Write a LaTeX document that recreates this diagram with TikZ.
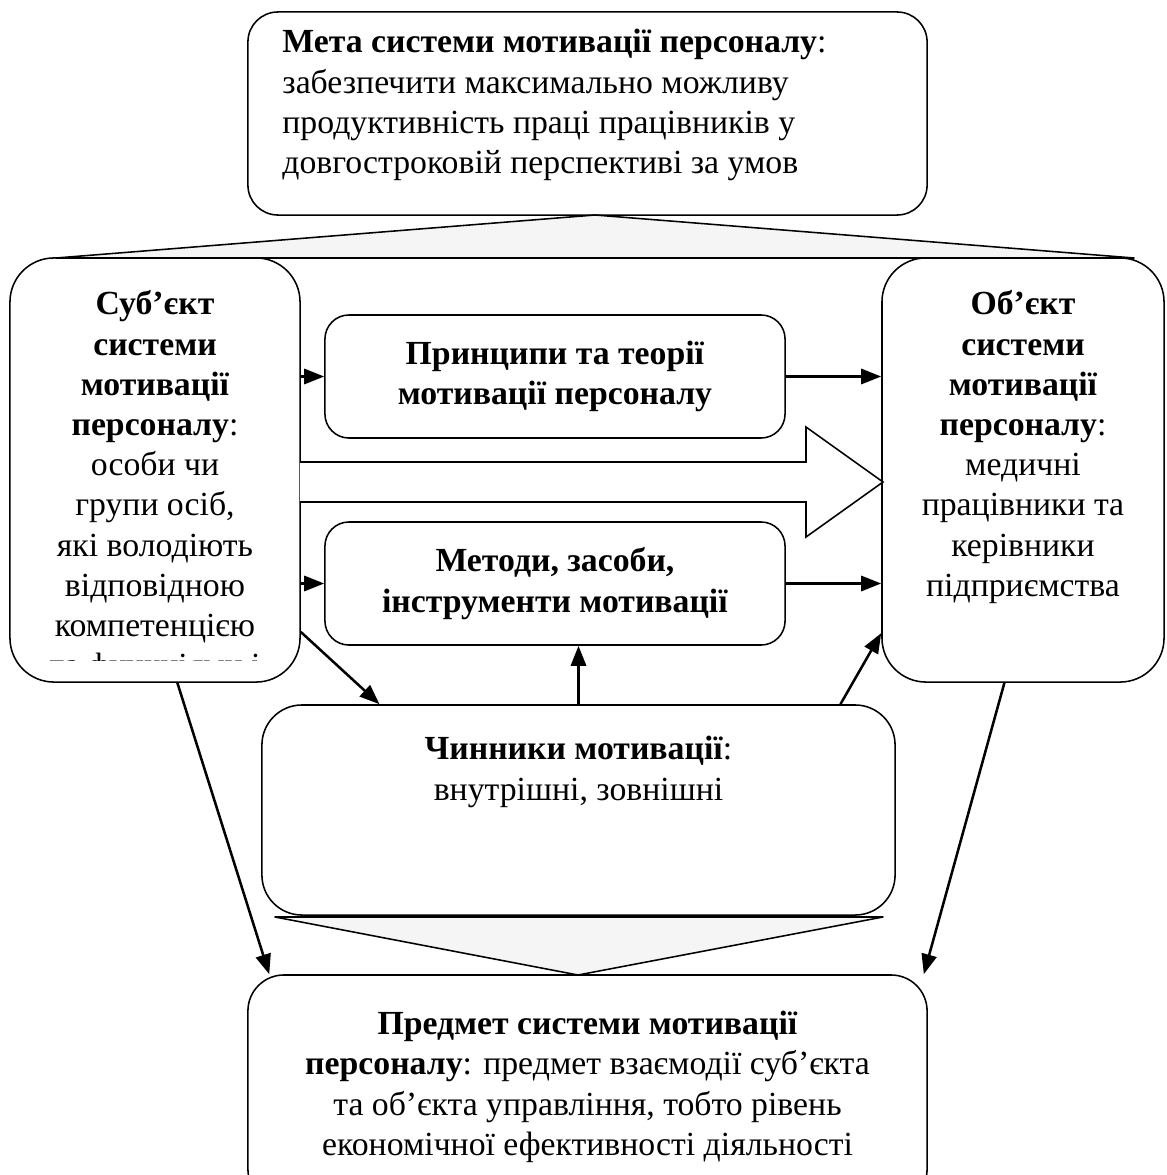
\documentclass[tikz,border=0pt]{standalone}
\usepackage{fontspec}
\setmainfont{Liberation Serif}
\usetikzlibrary{arrows.meta,calc}
\tikzstyle{box} = [rectangle, draw=black, line width=1.1pt, fill=white]
\tikzstyle{txt} = [inner sep=0pt, align=center, font=\fontsize{24}{28.6}\selectfont]
\tikzstyle{arrow} = [line width=1.8pt, -{Triangle[length=0.5cm,width=0.38cm]}]
\tikzstyle{tri} = [line width=1.1pt, fill=black!4, line join=round]

\begin{document}
\begin{tikzpicture}[x=0.025cm, y=-0.025cm]
  \useasboundingbox (0,0) rectangle (1166,1175);
  \node (goal)[box, rounded corners=0.75cm, minimum width=16.975cm, minimum height=5.075cm] at (587.5,113.5) {};
  \node (goaltext)[txt, align=left, anchor=north west] at ([xshift=0.875cm, yshift=-0.45cm]goal.north west) {\textbf{Мета системи мотивації персоналу}:\\забезпечити максимально можливу\\продуктивність праці працівників у\\довгостроковій перспективі за умов};

  \node (subj)[box, rounded corners=1.1cm, minimum width=7.25cm, minimum height=10.6cm] at (155,470) {};
  \begin{scope}
    \clip (12,260) rectangle (298,660);
    \node (subjtext)[txt, anchor=north] at ([yshift=-0.83cm]subj.north) {\textbf{Суб’єкт}\\\textbf{системи}\\\textbf{мотивації}\\\textbf{персоналу}:\\особи чи\\групи осіб,\\які володіють\\відповідною\\компетенцією\\та функціями і};
  \end{scope}
  \node (obj)[box, rounded corners=1.1cm, minimum width=7.05cm, minimum height=10.6cm] at (1023,470) {};
  \node (objtext)[txt, anchor=north] at ([yshift=-0.83cm]obj.north) {\textbf{Об’єкт}\\\textbf{системи}\\\textbf{мотивації}\\\textbf{персоналу}:\\медичні\\працівники та\\керівники\\підприємства};

  \node (princ)[box, txt, rounded corners=0.6cm, minimum width=11.5cm, minimum height=3.075cm] at (555,376.5) {\textbf{Принципи та теорії}\\\textbf{мотивації персоналу}};
  \node (meth)[box, txt, rounded corners=0.6cm, minimum width=11.5cm, minimum height=3.075cm] at (555,583.5) {\textbf{Методи, засоби,}\\\textbf{інструменти мотивації}};

  \node (factor)[box, rounded corners=1cm, minimum width=15.825cm, minimum height=5.25cm] at (578.5,810) {};
  \node (factortext)[txt, anchor=north] at ([yshift=-0.8cm]factor.north) {\textbf{Чинники мотивації}:\\внутрішні, зовнішні};

  \node (predm)[box, rounded corners=0.9cm, minimum width=16.975cm, minimum height=5.75cm] at (587.5,1090) {};
  \node (predmtext)[txt, anchor=north] at ([yshift=-0.92cm]predm.north) {\textbf{Предмет системи мотивації}\\\textbf{персоналу}: предмет взаємодії суб’єкта\\та об’єкта управління, тобто рівень\\економічної ефективності діяльності};

  % triangles and the wide arrow
  \draw [tri] (595,215) -- (56,258) -- (1134,258) -- cycle;
  \draw [tri] (275,917) -- (883,917) -- (578,975) -- cycle;
  \draw [line width=2pt] (275,917) -- (883,917);
  \draw [line width=1.1pt, fill=white, line join=miter] (300,462) -- (806,462) -- (806,427) -- (883,482) -- (806,537) -- (806,502) -- (300,502);

  \draw [arrow] (subj.east |- princ.west) -- (princ.west);
  \draw [arrow] (princ.east) -- (obj.west |- princ.east);
  \draw [arrow] (subj.east |- meth.west) -- (meth.west);
  \draw [arrow] (meth.east) -- (obj.west |- meth.east);
  \draw [arrow] (subj.-48.3) -- (factor.152.4);
  \draw [arrow] (factor.north) -- (factor.north |- meth.south);
  \draw [arrow] (factor.22.2) -- (obj.229.2);
  \draw [arrow] (subj.-84.6) -- (predm.160.6);
  \draw [arrow] (obj.-95.4) -- (predm.19.9);
\end{tikzpicture}
\end{document}
